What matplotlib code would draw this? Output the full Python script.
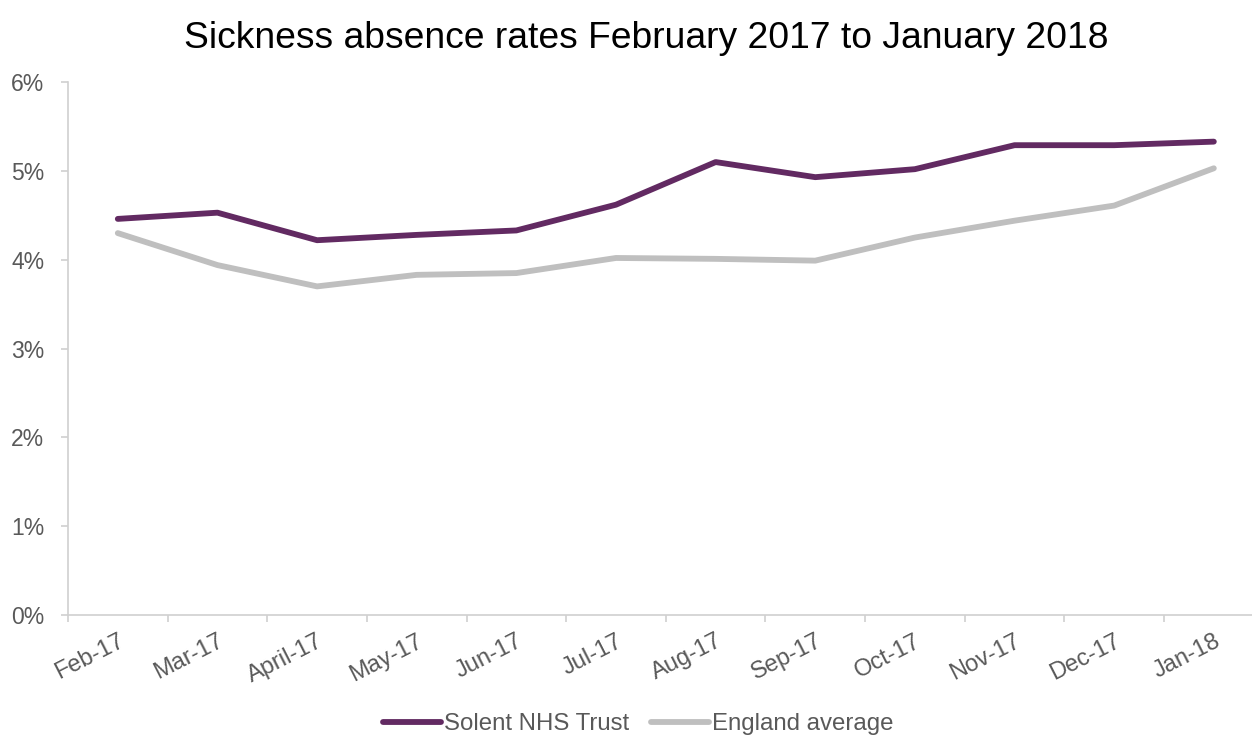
import matplotlib
matplotlib.use("Agg")
import matplotlib.pyplot as plt
import numpy as np

# Monthly sickness absence rates (%)
months = ["Feb-17", "Mar-17", "April-17", "May-17", "Jun-17", "Jul-17",
          "Aug-17", "Sep-17", "Oct-17", "Nov-17", "Dec-17", "Jan-18"]
solent = [4.46, 4.53, 4.22, 4.28, 4.33, 4.62, 5.10, 4.93, 5.02, 5.29, 5.29, 5.33]
england = [4.30, 3.94, 3.70, 3.83, 3.85, 4.02, 4.01, 3.99, 4.25, 4.44, 4.61, 5.03]

plt.rcParams["font.family"] = ["Liberation Sans", "DejaVu Sans"]

fig = plt.figure(figsize=(12.52, 7.38), dpi=100)
ax = fig.add_axes([0.0543, 0.1667, 0.955, 0.722])

x = np.arange(len(months))
ax.plot(x, solent, color="#622A62", lw=4.2, solid_capstyle="round", label="Solent NHS Trust")
ax.plot(x, england, color="#BFBFBF", lw=4.2, solid_capstyle="round", label="England average")

ax.set_ylim(0, 6)
ax.set_xlim(-0.5, len(months) - 0.5)
ax.set_yticks(range(0, 7))
ax.set_yticklabels([f"{v}%" for v in range(0, 7)])

# category boundaries get the tick marks, labels sit at the centres
ax.set_xticks(np.arange(-0.5, len(months), 1.0))
ax.set_xticklabels([])
ax.set_xticks(x, minor=True)
ax.set_xticklabels(months, minor=True, rotation=27, ha="right", va="top",
                   rotation_mode="anchor")
ax.tick_params(axis="x", which="minor", length=0, pad=11, labelsize=17, labelcolor="#595959")
ax.tick_params(axis="x", which="major", length=5, width=1.2, color="#D0D0D0")
ax.tick_params(axis="y", length=5, width=1.2, color="#D0D0D0", pad=12,
               labelsize=16.5, labelcolor="#595959")

for s in ["top", "right"]:
    ax.spines[s].set_visible(False)
for s in ["left", "bottom"]:
    ax.spines[s].set_color("#D0D0D0")
    ax.spines[s].set_linewidth(1.2)

fig.suptitle("Sickness absence rates February 2017 to January 2018",
             x=0.516, y=0.972, fontsize=26.8, color="#000000", va="top")

fig.legend(loc="center", bbox_to_anchor=(0.51, 0.019), ncol=2, frameon=False,
           fontsize=17.3, labelcolor="#595959", handlelength=2.4, handletextpad=0.15,
           columnspacing=0.9)

fig.savefig("out.png", dpi=100)
